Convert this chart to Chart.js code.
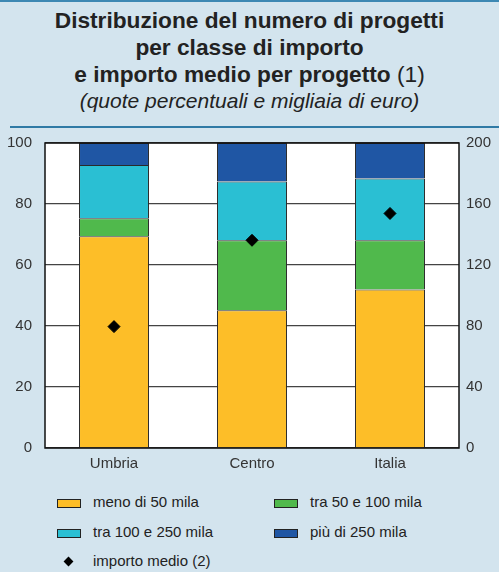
<!DOCTYPE html>
<html lang="it">
<head>
  <meta charset="UTF-8">
  <title>Distribuzione del numero di progetti</title>
  <script src="https://cdn.jsdelivr.net/npm/chart.js"></script>
  <style>
    body {
      margin: 0;
      width: 499px;
      height: 572px;
      background: #d3e4ee;
      font-family: "Liberation Sans", Arial, sans-serif;
      color: #222;
      position: relative;
      overflow: hidden;
    }
    .topline { position: absolute; left: 0; top: 0; width: 499px; height: 2px; background: #3d88b3; }
    .subline { position: absolute; left: 10px; top: 126px; width: 489px; height: 1.5px; background: #2f7aa5; }
    .title {
      position: absolute; top: 7px; left: 0; width: 499px;
      text-align: center; font-weight: bold; font-size: 22.7px; line-height: 27px; color: #222;
    }
    .title .nb { font-weight: normal; }
    .subtitle {
      position: absolute; top: 88px; left: 0; width: 499px;
      text-align: center; font-style: italic; font-size: 21px; line-height: 26px; color: #222;
    }
    #wrap { position: absolute; left: 0; top: 121px; width: 499px; height: 354px; }
    .leg { position: absolute; font-size: 15px; color: #222; }
    .leg .box { position: absolute; left: 0; top: 6px; width: 22px; height: 7px; border: 1px solid #222; }
    .leg .dia { position: absolute; left: 8px; top: 6px; width: 7px; height: 7px; background: #000; transform: rotate(45deg); }
    .leg span { position: absolute; left: 36px; top: 0; white-space: nowrap; }
  </style>
</head>
<body>
  <div class="topline"></div>
  <div class="title">Distribuzione del numero di progetti<br>per classe di importo<br>e importo medio per progetto <span class="nb">(1)</span></div>
  <div class="subtitle">(quote percentuali e migliaia di euro)</div>
  <div id="wrap"><canvas id="chart" width="499" height="354"></canvas></div>
  <div class="subline"></div>
  <div id="legend"></div>

  <script>
    const categories = ['Umbria', 'Centro', 'Italia'];
    const menoDi50 = [69.4, 45.2, 52.0];
    const tra50e100 = [5.9, 22.9, 16.1];
    const tra100e250 = [17.5, 19.3, 20.3];
    const piuDi250 = [7.2, 12.6, 11.6];
    const importoMedio = [79.6, 136.2, 153.8];
    const leftTicks = [0, 20, 40, 60, 80, 100];
    const rightTicks = [0, 40, 80, 120, 160, 200];

    const seriesNames = ['meno di 50 mila', 'tra 50 e 100 mila', 'tra 100 e 250 mila', 'più di 250 mila'];
    const seriesData = [menoDi50, tra50e100, tra100e250, piuDi250];
    const seriesColors = ['#fdbe28', '#50b94c', '#2abfd3', '#1f56a4'];
    const pointName = 'importo medio (2)';

    const barSets = seriesNames.map((name, i) => ({
      type: 'bar',
      label: name,
      data: seriesData[i],
      backgroundColor: seriesColors[i],
      borderColor: '#2a2a2a',
      borderWidth: 1,
      categoryPercentage: 1,
      barPercentage: 0.507,
      yAxisID: 'y',
      order: 2
    }));

    // riquadro bianco dell'area e bordo
    const plotFrame = {
      id: 'plotFrame',
      beforeDraw(chart) {
        const { ctx, chartArea: a } = chart;
        ctx.save();
        ctx.fillStyle = '#ffffff';
        ctx.fillRect(a.left, a.top, a.right - a.left, a.bottom - a.top);
        ctx.restore();
      },
      afterDraw(chart) {
        const { ctx, chartArea: a } = chart;
        ctx.save();
        ctx.strokeStyle = '#111';
        ctx.lineWidth = 1.5;
        ctx.strokeRect(a.left, a.top, a.right - a.left, a.bottom - a.top);
        ctx.restore();
      }
    };

    new Chart(document.getElementById('chart'), {
      type: 'bar',
      data: {
        labels: categories,
        datasets: [
          ...barSets,
          {
            type: 'line',
            label: pointName,
            data: importoMedio,
            yAxisID: 'y1',
            showLine: false,
            pointStyle: 'rectRot',
            pointRadius: 6,
            pointBackgroundColor: '#000',
            pointBorderColor: '#000',
            order: 0
          }
        ]
      },
      options: {
        responsive: false,
        animation: false,
        layout: { padding: { top: 14, left: 0, right: 0, bottom: 0 } },
        plugins: {
          legend: { display: false },
          tooltip: { enabled: false },
          title: { display: false }
        },
        scales: {
          x: {
            stacked: true,
            grid: { display: false, drawTicks: false },
            border: { display: false },
            ticks: { color: '#333', font: { family: 'Liberation Sans', size: 15 }, padding: 7 },
            afterFit(scale) { scale.height = 27; }
          },
          y: {
            stacked: true,
            position: 'left',
            min: 0, max: 100,
            afterBuildTicks(scale) { scale.ticks = leftTicks.map(v => ({ value: v })); },
            grid: { color: '#444', lineWidth: 1.2, drawTicks: false },
            border: { display: false },
            ticks: { color: '#333', font: { family: 'Liberation Sans', size: 15 }, padding: 13 },
            afterFit(scale) { scale.width = 45; }
          },
          y1: {
            stacked: false,
            position: 'right',
            min: 0, max: 200,
            afterBuildTicks(scale) { scale.ticks = rightTicks.map(v => ({ value: v })); },
            grid: { display: false, drawTicks: false },
            border: { display: false },
            ticks: { color: '#333', font: { family: 'Liberation Sans', size: 15 }, padding: 7 },
            afterFit(scale) { scale.width = 40; }
          }
        }
      },
      plugins: [plotFrame]
    });

    // legenda
    const legend = document.getElementById('legend');
    const legPos = [[57, 493], [274, 493], [57, 523], [274, 523]];
    seriesNames.forEach((name, i) => {
      const d = document.createElement('div');
      d.className = 'leg';
      d.style.left = legPos[i][0] + 'px';
      d.style.top = legPos[i][1] + 'px';
      d.innerHTML = '<div class="box" style="background:' + seriesColors[i] + '"></div><span>' + name + '</span>';
      legend.appendChild(d);
    });
    const p = document.createElement('div');
    p.className = 'leg';
    p.style.left = '57px';
    p.style.top = '552px';
    p.innerHTML = '<div class="dia"></div><span>' + pointName + '</span>';
    legend.appendChild(p);
  </script>
</body>
</html>
